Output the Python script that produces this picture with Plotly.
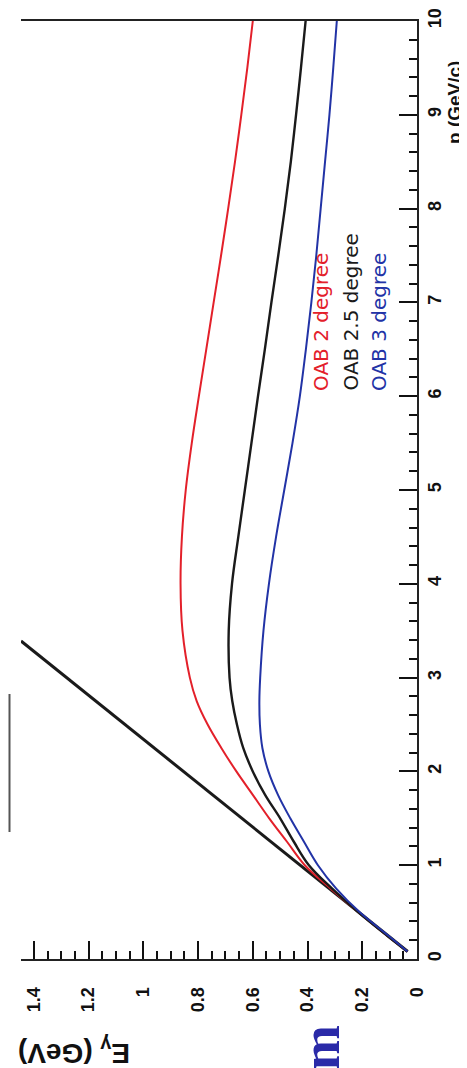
import plotly.graph_objects as go

# ---- data (E_gamma in GeV vs pion momentum p in GeV/c) ----
p_vals = [0.08, 0.25, 0.5, 0.75, 1.0, 1.25, 1.5, 1.75, 2.0, 2.25, 2.5, 2.75, 3.0,
          3.5, 4.0, 4.5, 5.0, 5.5, 6.0, 6.5, 7.0, 7.5, 8.0, 8.5, 9.0, 9.5, 10.0]
e_2deg = [0.035, 0.11, 0.215, 0.315, 0.41, 0.475, 0.54, 0.60, 0.66, 0.715, 0.765, 0.805, 0.83,
          0.857, 0.864, 0.859, 0.845, 0.823, 0.797, 0.77, 0.743, 0.716, 0.69, 0.665, 0.642, 0.62, 0.60]
e_25deg = [0.035, 0.11, 0.215, 0.31, 0.395, 0.45, 0.50, 0.555, 0.60, 0.635, 0.658, 0.675, 0.685,
           0.688, 0.676, 0.653, 0.629, 0.605, 0.581, 0.556, 0.532, 0.507, 0.483, 0.461, 0.442, 0.424, 0.407]
e_3deg = [0.035, 0.105, 0.21, 0.295, 0.362, 0.413, 0.463, 0.508, 0.543, 0.565, 0.574, 0.576, 0.573,
          0.561, 0.541, 0.515, 0.485, 0.455, 0.428, 0.406, 0.386, 0.368, 0.352, 0.336, 0.32, 0.306, 0.293]
line_p = [0.08, 3.39]
line_e = [0.034, 1.447]

series_names = ["OAB 2 degree", "OAB 2.5 degree", "OAB 3 degree"]
series_colors = ["#e3202a", "#1a1a1a", "#2233a6"]

e_ticks = [0, 0.2, 0.4, 0.6, 0.8, 1.0, 1.2, 1.4]
e_ticktext = ["0", "0.2", "0.4", "0.6", "0.8", "1", "1.2", "1.4"]
p_ticks = [0, 1, 2, 3, 4, 5, 6, 7, 8, 9, 10]
p_ticktext = [str(v) for v in p_ticks]

# ---- geometry of the (rotated) frame in pixels ----
W, H = 467, 1068
L, R, T, B = 13, 58, 13, 117
PW, PH = W - L - R, H - T - B


def px(x):
    return (x - L) / PW


def py(y):
    return (H - B - y) / PH


fig = go.Figure()

fig.add_trace(go.Scatter(x=line_e, y=line_p, mode="lines",
                         line=dict(color="#1a1a1a", width=3), showlegend=False))
for e_vals, name, col, w in zip([e_2deg, e_25deg, e_3deg], series_names, series_colors, [2, 2.4, 2]):
    fig.add_trace(go.Scatter(x=e_vals, y=p_vals, mode="lines", name=name,
                             line=dict(color=col, width=w, shape="spline", smoothing=1.0),
                             showlegend=False))

tickfont = dict(family="Liberation Sans", size=18, color="#111", weight="bold")

fig.update_xaxes(range=[1.447, 0], tickvals=e_ticks, ticktext=e_ticktext, tickangle=-90,
                 ticks="inside", ticklen=18, tickwidth=1.5, tickcolor="#111",
                 minor=dict(ticks="inside", ticklen=8, dtick=0.05, tickwidth=1.5, tickcolor="#111"),
                 showline=True, linecolor="#222", linewidth=2, mirror=True, automargin=False,
                 showgrid=False, zeroline=False, tickfont=tickfont, ticklabelstandoff=19)
fig.update_yaxes(range=[0, 10], tickvals=p_ticks, ticktext=p_ticktext, tickangle=-90, side="right",
                 ticks="inside", ticklen=18, tickwidth=1.5, tickcolor="#111",
                 minor=dict(ticks="inside", ticklen=8, dtick=0.2, tickwidth=1.5, tickcolor="#111"),
                 showline=True, linecolor="#222", linewidth=2, mirror=False, automargin=False,
                 showgrid=False, zeroline=False, tickfont=tickfont, ticklabelstandoff=0)

annotations = []
# legend-like labels
for name, col, xc in zip(series_names, series_colors, [313, 342, 371]):
    annotations.append(dict(text=name, x=px(xc), y=py(385), xref="paper", yref="paper",
                            xanchor="center", yanchor="bottom", textangle=-90, showarrow=False,
                            font=dict(family="DejaVu Sans", size=20, color=col)))
# axis titles
annotations.append(dict(text="p (GeV/c)", x=px(447), y=py(95), xref="paper", yref="paper",
                        xanchor="center", yanchor="middle", textangle=-90, showarrow=False,
                        font=dict(family="Liberation Sans", size=19, color="#111", weight="bold")))
annotations.append(dict(text="E<sub>γ</sub> (GeV)", x=px(124), y=py(1024), xref="paper", yref="paper",
                        xanchor="right", yanchor="top", textangle=180, showarrow=False,
                        font=dict(family="Liberation Sans", size=28, color="#111", weight="bold")))
annotations.append(dict(text="m", x=px(313), y=py(1040), xref="paper", yref="paper",
                        xanchor="center", yanchor="middle", textangle=-90, showarrow=False,
                        font=dict(family="Liberation Serif", size=54, color="#2a2aa8", weight="bold")))

fig.update_layout(width=W, height=H, margin=dict(l=L, r=R, t=T, b=B, pad=0, autoexpand=False),
                  plot_bgcolor="white", paper_bgcolor="white", showlegend=False,
                  annotations=annotations,
                  shapes=[dict(type="line", xref="paper", yref="paper",
                               x0=px(1.5), x1=px(1.5), y0=py(686), y1=py(824),
                               line=dict(color="#555", width=2))])

fig.write_html("out.html")
